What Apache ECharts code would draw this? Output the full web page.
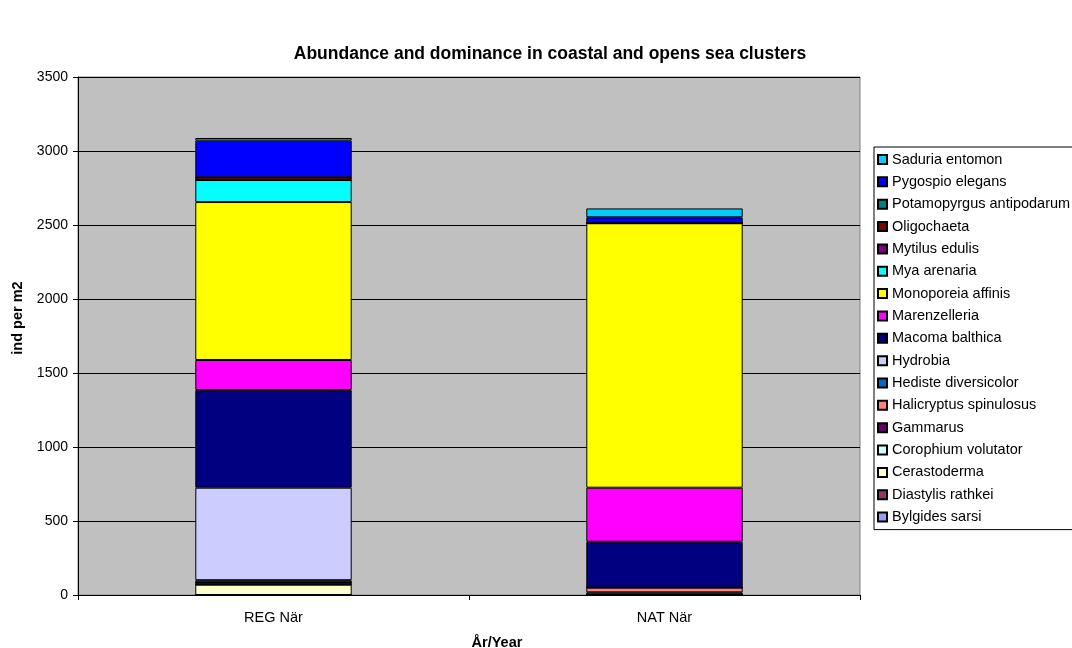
<!DOCTYPE html>
<html>
<head>
<meta charset="utf-8">
<script src="https://cdn.jsdelivr.net/npm/echarts@6/dist/echarts.min.js"></script>
<style>
  html, body { margin: 0; padding: 0; background: #fff; }
  #chart { width: 1072px; height: 648px; }
</style>
</head>
<body>
<div id="chart"></div>
<script>
// Sites (x categories)
const categories = ['REG När', 'NAT När'];

// Species, from bottom of the stack to the top
const species = [
  'Bylgides sarsi', 'Diastylis rathkei', 'Cerastoderma', 'Corophium volutator',
  'Gammarus', 'Halicryptus spinulosus', 'Hediste diversicolor', 'Hydrobia',
  'Macoma balthica', 'Marenzelleria', 'Monoporeia affinis', 'Mya arenaria',
  'Mytilus edulis', 'Oligochaeta', 'Potamopyrgus antipodarum', 'Pygospio elegans',
  'Saduria entomon'
];

// Individuals per m2 for each species: [REG När, NAT När]
const bylgidesSarsi        = [0, 0];
const diastylisRathkei     = [0, 0];
const cerastoderma         = [70, 0];
const corophiumVolutator   = [0, 0];
const gammarus             = [15, 18];
const halicryptus          = [0, 32];
const hedisteDiversicolor  = [15, 0];
const hydrobia             = [625, 0];
const macomaBalthica       = [660, 310];
const marenzelleria        = [203, 365];
const monoporeiaAffinis    = [1067, 1787];
const myaArenaria          = [149, 0];
const mytilusEdulis        = [0, 0];
const oligochaeta          = [18, 0];
const potamopyrgus         = [0, 0];
const pygospioElegans      = [248, 40];
const saduriaEntomon       = [18, 60];

const values = [
  bylgidesSarsi, diastylisRathkei, cerastoderma, corophiumVolutator,
  gammarus, halicryptus, hedisteDiversicolor, hydrobia,
  macomaBalthica, marenzelleria, monoporeiaAffinis, myaArenaria,
  mytilusEdulis, oligochaeta, potamopyrgus, pygospioElegans,
  saduriaEntomon
];

const colors = [
  '#9999FF', '#993366', '#FFFFCC', '#CCFFFF',
  '#660066', '#FF8080', '#0066CC', '#CCCCFF',
  '#000080', '#FF00FF', '#FFFF00', '#00FFFF',
  '#800080', '#800000', '#008080', '#0000FF',
  '#00CCFF'
];

// Y axis ticks
const yMin = 0, yMax = 3500, yStep = 500;

const font = '"Liberation Sans", Arial, sans-serif';

const series = species.map((name, i) => ({
  name: name,
  type: 'bar',
  stack: 'total',
  barWidth: '40%',
  data: values[i],
  itemStyle: { color: colors[i], borderColor: '#000', borderWidth: 1 },
  emphasis: { disabled: true }
}));

const chart = echarts.init(document.getElementById('chart'), null, { renderer: 'canvas' });
chart.setOption({
  animation: false,
  backgroundColor: '#fff',
  textStyle: { fontFamily: font },
  title: {
    text: 'Abundance and dominance in coastal and opens sea clusters',
    left: 545,
    top: 40,
    textAlign: 'center',
    textStyle: { fontFamily: font, fontSize: 17.5, fontWeight: 'bold', color: '#000' }
  },
  legend: {
    orient: 'vertical',
    left: 874,
    top: 147,
    data: species.slice().reverse(),
    itemWidth: 9,
    itemHeight: 9,
    itemGap: 7.35,
    icon: 'rect',
    padding: [5, 60, 5, 3],
    borderColor: '#000',
    borderWidth: 1,
    backgroundColor: '#fff',
    selectedMode: false,
    textStyle: { fontFamily: font, fontSize: 14.5, color: '#000' }
  },
  grid: {
    left: 78, right: 212, top: 77, bottom: 53,
    outerBoundsMode: 'none',
    show: true,
    backgroundColor: '#C0C0C0',
    borderColor: '#808080',
    borderWidth: 1
  },
  xAxis: {
    type: 'category',
    data: categories,
    name: 'År/Year',
    nameLocation: 'middle',
    nameGap: 40,
    nameTextStyle: { fontFamily: font, fontSize: 14.5, fontWeight: 'bold', color: '#000', padding: [0, 0, 0, 56] },
    axisLine: { lineStyle: { color: '#000' } },
    axisTick: { show: true, alignWithLabel: false, length: 5, lineStyle: { color: '#000' } },
    axisLabel: { fontFamily: font, fontSize: 14.5, color: '#000', margin: 15 }
  },
  yAxis: {
    type: 'value',
    min: yMin, max: yMax, interval: yStep,
    name: 'ind per m2',
    nameLocation: 'middle',
    nameGap: 53,
    nameTextStyle: { fontFamily: font, fontSize: 14.5, fontWeight: 'bold', color: '#000', padding: [0, 0, 0, 36] },
    axisLine: { show: true, lineStyle: { color: '#000' } },
    axisTick: { show: true, length: 5, lineStyle: { color: '#000' } },
    axisLabel: { fontFamily: font, fontSize: 14, color: '#000', margin: 10, formatter: v => String(v) },
    splitLine: { show: true, lineStyle: { color: '#000', width: 1 } }
  },
  series: series
});
</script>
</body>
</html>
